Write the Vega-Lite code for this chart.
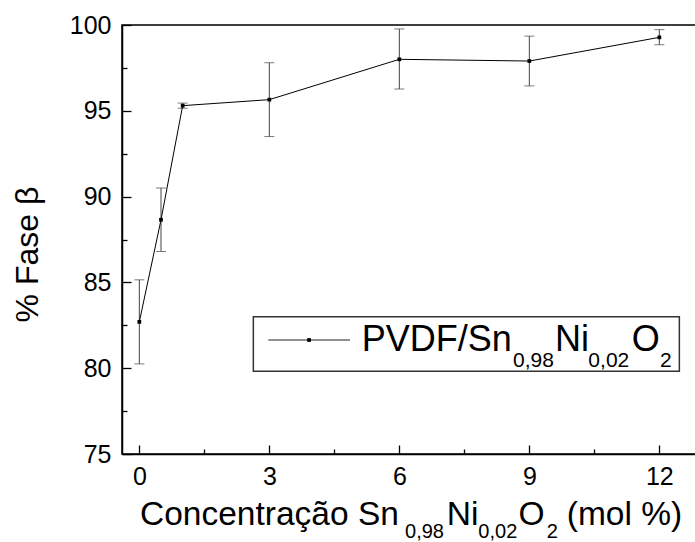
{
  "$schema": "https://vega.github.io/schema/vega-lite/v6.json",
  "width": 575,
  "height": 429,
  "autosize": {"type": "none"},
  "padding": {"left": 122, "top": 25, "right": 0, "bottom": 88},
  "background": "white",
  "config": {
    "font": "Liberation Sans",
    "view": {"stroke": "#000", "strokeWidth": 1.5}
  },
  "datasets": {
    "pts": [
      {"x": 0, "y": 82.7, "lo": 80.25, "hi": 85.15},
      {"x": 0.5, "y": 88.65, "lo": 86.8, "hi": 90.5},
      {"x": 1, "y": 95.3, "lo": 95.15, "hi": 95.45},
      {"x": 3, "y": 95.65, "lo": 93.5, "hi": 97.8},
      {"x": 6, "y": 98.0, "lo": 96.27, "hi": 99.77},
      {"x": 9, "y": 97.9, "lo": 96.45, "hi": 99.35},
      {"x": 12, "y": 99.28, "lo": 98.85, "hi": 99.73}
    ],
    "legendBox": [{"x": 2.631, "x2": 12.462, "y": 83.0, "y2": 79.82}],
    "legendLine": [{"x": 2.977, "y": 81.643}, {"x": 4.863, "y": 81.643}],
    "legendPoint": [{"x": 3.917, "y": 81.643}],
    "legMain": [
      {"x": 5.133, "y": 81.002, "text": "PVDF/Sn"},
      {"x": 9.593, "y": 81.002, "text": "Ni"},
      {"x": 11.364, "y": 81.002, "text": "O"}
    ],
    "legSub": [
      {"x": 8.624, "y": 80.041, "text": "0,98"},
      {"x": 10.362, "y": 80.041, "text": "0,02"},
      {"x": 12.017, "y": 80.041, "text": "2"}
    ],
    "titleMain": [
      {"x": 0.016, "y": 70.863, "text": "Concentração Sn"},
      {"x": 7.094, "y": 70.863, "text": "Ni"},
      {"x": 8.747, "y": 70.863, "text": "O"},
      {"x": 9.863, "y": 70.863, "text": "(mol %)"}
    ],
    "titleSub": [
      {"x": 6.132, "y": 70.105, "text": "0,98"},
      {"x": 7.823, "y": 70.105, "text": "0,02"},
      {"x": 9.402, "y": 70.105, "text": "2"}
    ]
  },
  "encoding": {
    "x": {
      "field": "x",
      "type": "quantitative",
      "scale": {"domain": [-0.4, 12.869], "nice": false, "zero": false},
      "axis": {
        "values": [0, 1.5, 3, 4.5, 6, 7.5, 9, 10.5, 12],
        "labelExpr": "datum.value % 3 === 0 ? datum.label : ''",
        "tickSize": {"condition": {"test": "datum.value % 3 === 0", "value": -9}, "value": -5},
        "tickColor": "#000",
        "tickWidth": 1.3,
        "domainColor": "#000",
        "domainWidth": 1.5,
        "grid": false,
        "title": null,
        "labelFontSize": 25,
        "labelColor": "#000",
        "labelPadding": 19,
        "labelFlush": false,
        "labelOverlap": false
      }
    },
    "y": {
      "field": "y",
      "type": "quantitative",
      "scale": {"domain": [75, 100], "nice": false, "zero": false},
      "axis": {
        "values": [75, 77.5, 80, 82.5, 85, 87.5, 90, 92.5, 95, 97.5, 100],
        "labelExpr": "datum.value % 5 === 0 ? datum.label : ''",
        "tickSize": {"condition": {"test": "datum.value % 5 === 0", "value": -9}, "value": -5},
        "tickColor": "#000",
        "tickWidth": 1.3,
        "domainColor": "#000",
        "domainWidth": 1.5,
        "grid": false,
        "labelFontSize": 25,
        "labelColor": "#000",
        "labelPadding": 20,
        "labelFlush": false,
        "labelOverlap": false,
        "title": "% Fase β",
        "titleFontSize": 32,
        "titleFontWeight": "normal",
        "titleColor": "#000",
        "titleAngle": 270,
        "titleX": -85,
        "titleY": 229,
        "titleAlign": "center",
        "titleBaseline": "alphabetic"
      }
    }
  },
  "layer": [
    {
      "data": {"name": "pts"},
      "mark": {"type": "errorbar", "ticks": {"size": 10, "color": "#444"}, "color": "#444", "thickness": 1},
      "encoding": {
        "y": {"field": "lo", "type": "quantitative"},
        "y2": {"field": "hi"}
      }
    },
    {
      "data": {"name": "pts"},
      "mark": {"type": "line", "color": "#000", "strokeWidth": 1, "point": {"shape": "square", "size": 14, "filled": true, "color": "#000"}},
      "encoding": {}
    },
    {
      "data": {"name": "legendBox"},
      "mark": {"type": "rect", "fill": "white", "stroke": "#333", "strokeWidth": 1.5},
      "encoding": {"x2": {"field": "x2"}, "y2": {"field": "y2"}}
    },
    {
      "data": {"name": "legendLine"},
      "mark": {"type": "line", "color": "#222", "strokeWidth": 1},
      "encoding": {}
    },
    {
      "data": {"name": "legendPoint"},
      "mark": {"type": "point", "shape": "square", "size": 14, "filled": true, "color": "#000", "opacity": 1},
      "encoding": {}
    },
    {
      "data": {"name": "legMain"},
      "mark": {"type": "text", "align": "left", "baseline": "alphabetic", "fontSize": 36, "color": "#000"},
      "encoding": {"text": {"field": "text"}}
    },
    {
      "data": {"name": "legSub"},
      "mark": {"type": "text", "align": "left", "baseline": "alphabetic", "fontSize": 21, "color": "#000"},
      "encoding": {"text": {"field": "text"}}
    },
    {
      "data": {"name": "titleMain"},
      "mark": {"type": "text", "align": "left", "baseline": "alphabetic", "fontSize": 33.5, "color": "#000"},
      "encoding": {"text": {"field": "text"}}
    },
    {
      "data": {"name": "titleSub"},
      "mark": {"type": "text", "align": "left", "baseline": "alphabetic", "fontSize": 20, "color": "#000"},
      "encoding": {"text": {"field": "text"}}
    }
  ]
}
